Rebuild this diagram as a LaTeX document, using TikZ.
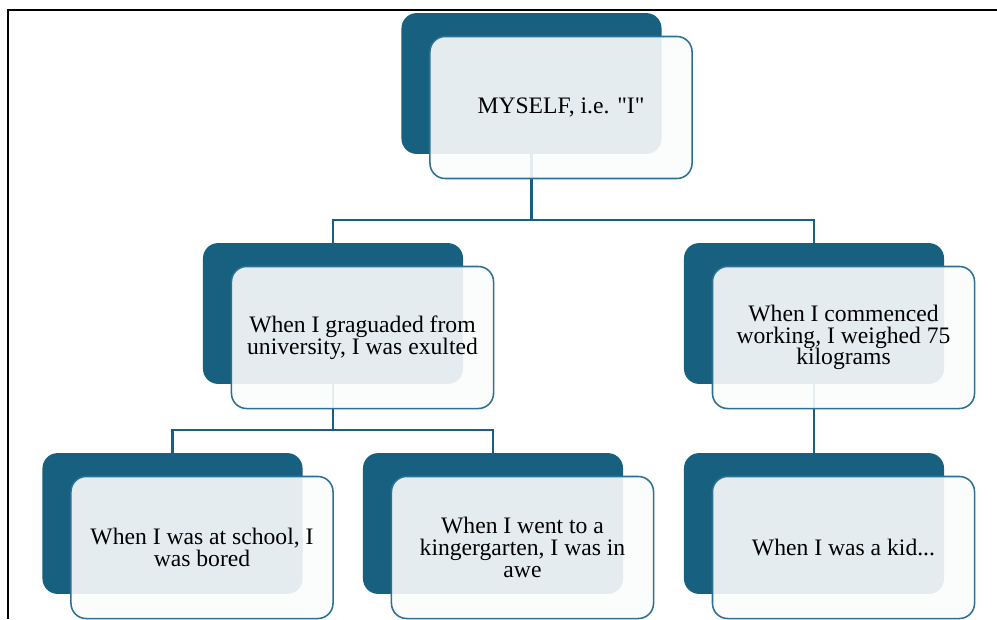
\documentclass[tikz,border=0pt]{standalone}
\usepackage{fontspec}
\setmainfont{Liberation Serif}[Ligatures=TeXOff]
\usetikzlibrary{positioning}
\definecolor{backblue}{HTML}{176080}
\definecolor{edgeblue}{HTML}{2C7194}
\definecolor{frontfill}{HTML}{FBFCFC}
\begin{document}
\begin{tikzpicture}[
    x=0.025cm, y=-0.025cm,
    back/.style={rectangle, rounded corners=0.38cm, fill=backblue, minimum width=6.5cm, minimum height=3.52cm, inner sep=0pt},
    front/.style={rectangle, rounded corners=0.38cm, draw=edgeblue, line width=1.1pt, fill=frontfill, fill opacity=0.9, text opacity=1, text=black, minimum width=6.55cm, minimum height=3.55cm, inner sep=0pt, align=center, font=\fontsize{16.8}{15.5}\selectfont},
    link/.style={draw=backblue, line width=1.6pt}
  ]
    \useasboundingbox (0,0) rectangle (997,619);
    % frame
    \draw[line width=1.3pt] (8,619) -- (8,10) -- (997,10);

    % dark back boxes
    \foreach \nm/\px/\py in {me/531.5/83.5, grad/333/313.5, work/814/313.5, school/172.5/523.5, kgarten/493/523.5, kid/814/523.5} {
      \node[back] (\nm-b) at (\px,\py) {};
    }

    % connectors
    \coordinate (split-me) at (531.5,220);
    \coordinate (split-grad) at (333,430);
    \draw[link] (me-b.south) -- (split-me) -| (grad-b.north);
    \draw[link] (split-me) -| (work-b.north);
    \draw[link] (grad-b.south) -- (split-grad) -| (school-b.north);
    \draw[link] (split-grad) -| (kgarten-b.north);
    \draw[link] (work-b.south) -- (kid-b.north);

    % light front boxes
    \node[front] (me) at ([shift={(29.5,24)}]me-b.center) {MYSELF, i.e. "I"};
    \node[front] (grad) at ([shift={(29.5,24)}]grad-b.center) {When I graguaded from\\university, I was exulted};
    \node[front] (work) at ([shift={(29.5,24)}]work-b.center) {When I commenced\\working, I weighed 75\\kilograms};
    \node[front] (school) at ([shift={(29.5,24)}]school-b.center) {When I was at school, I\\was bored};
    \node[front] (kgarten) at ([shift={(29.5,24)}]kgarten-b.center) {When I went to a\\kingergarten, I was in\\awe};
    \node[front] (kid) at ([shift={(29.5,24)}]kid-b.center) {When I was a kid...};
  \end{tikzpicture}
\end{document}
